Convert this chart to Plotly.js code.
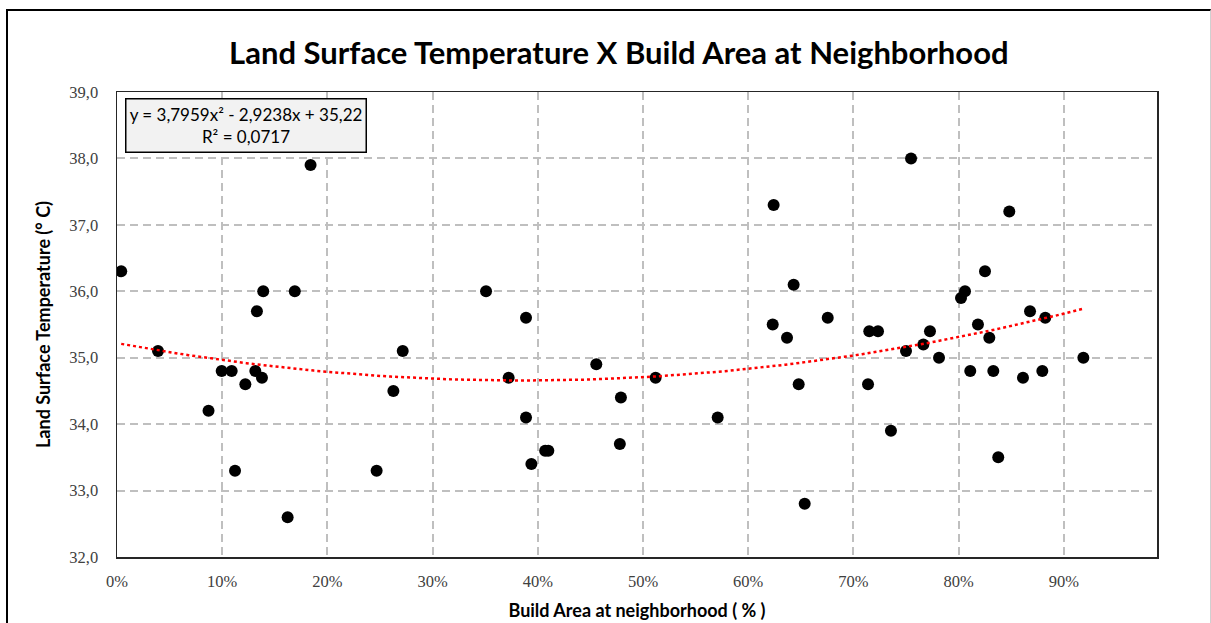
<!DOCTYPE html>
<html>
<head>
<meta charset="utf-8">
<script src="https://cdn.plot.ly/plotly-3.0.1.min.js"></script>
<style>
  html, body { margin: 0; padding: 0; background: #ffffff; }
  #chart { width: 1211px; height: 623px; }
  #frame { position: absolute; left: 6px; top: 9px; width: 1202px; height: 640px;
           border-left: 2px solid #000; border-top: 2px solid #000; border-right: 1px solid #d0d0d0;
           pointer-events: none; }
</style>
</head>
<body>
<div id="chart"></div>
<div id="frame"></div>
<script>
// Build area share (fraction) and land surface temperature (°C)
const buildArea = [
  0.004, 0.039, 0.087, 0.0995, 0.109, 0.1122, 0.122, 0.1315, 0.133, 0.1378,
  0.139, 0.1622, 0.169, 0.184, 0.2468, 0.2627, 0.2716, 0.3508, 0.3723, 0.3888,
  0.3888, 0.3939, 0.407, 0.410, 0.4556, 0.478, 0.479, 0.512, 0.571, 0.6233,
  0.6242, 0.6369, 0.6432, 0.648, 0.6537, 0.6756, 0.7139, 0.7151, 0.7234, 0.7357,
  0.750, 0.7548, 0.7665, 0.7728, 0.7814, 0.8023, 0.8061, 0.8111, 0.8184, 0.8251,
  0.8292, 0.833, 0.8377, 0.8482, 0.8612, 0.8679, 0.8796, 0.8824, 0.9186
];
const temperature = [
  36.3, 35.1, 34.2, 34.8, 34.8, 33.3, 34.6, 34.8, 35.7, 34.7,
  36.0, 32.6, 36.0, 37.9, 33.3, 34.5, 35.1, 36.0, 34.7, 35.6,
  34.1, 33.4, 33.6, 33.6, 34.9, 33.7, 34.4, 34.7, 34.1, 35.5,
  37.3, 35.3, 36.1, 34.6, 32.8, 35.6, 34.6, 35.4, 35.4, 33.9,
  35.1, 38.0, 35.2, 35.4, 35.0, 35.9, 36.0, 34.8, 35.5, 36.3,
  35.3, 34.8, 33.5, 37.2, 34.7, 35.7, 34.8, 35.6, 35.0
];

// Polynomial trendline coefficients as printed on the chart: a*x^2 + b*x + c
const trendCoef = [3.7959, -2.9238, 35.22];
const equationLines = ["y = 3,7959x² - 2,9238x + 35,22", "R² = 0,0717"];

// Tick labels
const xTickVals = [0, 0.1, 0.2, 0.3, 0.4, 0.5, 0.6, 0.7, 0.8, 0.9];
const xTickText = ["0%", "10%", "20%", "30%", "40%", "50%", "60%", "70%", "80%", "90%"];
const yTickVals = [32, 33, 34, 35, 36, 37, 38, 39];
const yTickText = ["32,0", "33,0", "34,0", "35,0", "36,0", "37,0", "38,0", "39,0"];

// Trendline evaluated along the data range from the printed equation
const xMin = Math.min(...buildArea), xMax = Math.max(...buildArea);
const trendX = [], trendY = [];
for (let i = 0; i <= 100; i++) {
  const x = xMin + (xMax - xMin) * i / 100;
  trendX.push(x);
  trendY.push(trendCoef[0] * x * x + trendCoef[1] * x + trendCoef[2]);
}

const traces = [
  {
    x: buildArea, y: temperature, type: 'scatter', mode: 'markers',
    marker: { color: '#000000', size: 12, line: { width: 0 } },
    hoverinfo: 'x+y', showlegend: false
  },
  {
    x: trendX, y: trendY, type: 'scatter', mode: 'lines',
    line: { color: '#ff0000', width: 2.5, dash: 'dot' },
    hoverinfo: 'skip', showlegend: false
  }
];

const tickFont = { family: '"Liberation Serif", "Times New Roman", serif', size: 16.5, color: '#404040' };
const gridStyle = { showgrid: true, gridcolor: '#bfbfbf', gridwidth: 2, griddash: '8px,5px' };
const sansFamily = 'Lato, "Open Sans", sans-serif';

const layout = {
  width: 1211, height: 623,
  margin: { l: 117, r: 54, t: 92, b: 66 },
  paper_bgcolor: '#ffffff', plot_bgcolor: '#ffffff',
  title: {
    text: '<b>Land Surface Temperature X Build Area at Neighborhood</b>',
    font: { family: sansFamily, size: 31, color: '#000000' },
    x: 0.511, xanchor: 'center', y: 0.915, yanchor: 'middle'
  },
  xaxis: Object.assign({
    range: [0, 0.9886], tickvals: xTickVals, ticktext: xTickText,
    tickfont: tickFont, ticks: '', ticklabelstandoff: 9,
    showline: true, linecolor: '#262626', linewidth: 1.5, mirror: true,
    zeroline: false,
    title: { text: '<b>Build Area at neighborhood ( % )</b>', standoff: 14,
             font: { family: sansFamily, size: 18, color: '#000000' } }
  }, gridStyle),
  yaxis: Object.assign({
    range: [32, 39], tickvals: yTickVals, ticktext: yTickText,
    tickfont: tickFont, ticks: '', ticklabelstandoff: 14,
    showline: true, linecolor: '#262626', linewidth: 1.5, mirror: true,
    zeroline: false,
    title: { text: '<b>Land Surface Temperature (° C)</b>', standoff: 14,
             font: { family: sansFamily, size: 18, color: '#000000' } }
  }, gridStyle),
  annotations: [
    {
      xref: 'paper', yref: 'paper', x: 0.0077, y: 0.987, xanchor: 'left', yanchor: 'top',
      text: equationLines.join('<br>'), showarrow: false, align: 'center',
      font: { family: sansFamily, size: 17, color: '#000000' },
      bgcolor: '#f2f2f2', bordercolor: '#000000', borderwidth: 1.5, borderpad: 2,
      width: 235, height: 48
    }
  ]
};

Plotly.newPlot('chart', traces, layout, { displayModeBar: false, staticPlot: true });
</script>
</body>
</html>
